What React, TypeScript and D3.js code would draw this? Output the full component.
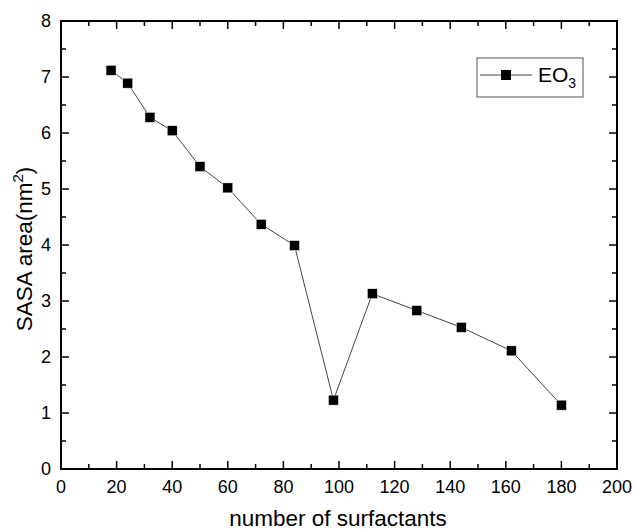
import React from "react";
import * as d3 from "d3";

const surfactants = [18, 24, 32, 40, 50, 60, 72, 84, 98, 112, 128, 144, 162, 180];
const sasaArea = [7.12, 6.89, 6.28, 6.04, 5.4, 5.02, 4.37, 3.99, 1.23, 3.13, 2.83, 2.53, 2.11, 1.14];
const xTicks = [0, 20, 40, 60, 80, 100, 120, 140, 160, 180, 200];
const yTicks = [0, 1, 2, 3, 4, 5, 6, 7, 8];

const W = 635;
const H = 531;
const left = 61;
const right = 617;
const top = 21;
const bottom = 469;
const font = "'Liberation Sans', Arial, sans-serif";

export default function App() {
  const x = d3.scaleLinear().domain([0, 200]).range([left, right]);
  const y = d3.scaleLinear().domain([0, 8]).range([bottom, top]);
  const pts = surfactants.map((s, i) => [s, sasaArea[i]] as [number, number]);
  const line = d3
    .line<[number, number]>()
    .x((d) => x(d[0]))
    .y((d) => y(d[1]));

  const xMinor = d3.range(10, 200, 20);
  const yMinor = d3.range(0.5, 8, 1);

  return (
    <svg width={W} height={H} style={{ position: "absolute", left: 0, top: 0 }}>
      <rect width={W} height={H} fill="#fff" />
      {/* ticks, inward on all four sides */}
      <g stroke="#000" strokeWidth={1.5}>
        {xTicks.map((t) => (
          <g key={"xt" + t}>
            <line x1={x(t)} x2={x(t)} y1={bottom} y2={bottom - 8} />
            <line x1={x(t)} x2={x(t)} y1={top} y2={top + 8} />
          </g>
        ))}
        {xMinor.map((t) => (
          <g key={"xm" + t}>
            <line x1={x(t)} x2={x(t)} y1={bottom} y2={bottom - 5} />
            <line x1={x(t)} x2={x(t)} y1={top} y2={top + 5} />
          </g>
        ))}
        {yTicks.map((t) => (
          <g key={"yt" + t}>
            <line x1={left} x2={left + 8} y1={y(t)} y2={y(t)} />
            <line x1={right} x2={right - 8} y1={y(t)} y2={y(t)} />
          </g>
        ))}
        {yMinor.map((t) => (
          <g key={"ym" + t}>
            <line x1={left} x2={left + 5} y1={y(t)} y2={y(t)} />
            <line x1={right} x2={right - 5} y1={y(t)} y2={y(t)} />
          </g>
        ))}
      </g>
      <rect x={left} y={top} width={right - left} height={bottom - top} fill="none" stroke="#000" strokeWidth={2} />

      {/* tick labels */}
      <g fontFamily={font} fontSize={18} fill="#000">
        {xTicks.map((t) => (
          <text key={"xl" + t} x={x(t)} y={bottom + 24} textAnchor="middle">
            {t}
          </text>
        ))}
        {yTicks.map((t) => (
          <text key={"yl" + t} x={left - 10} y={y(t) + 6} textAnchor="end">
            {t}
          </text>
        ))}
      </g>

      {/* axis titles */}
      <text x={338} y={526} textAnchor="middle" fontFamily={font} fontSize={22.5}>
        number of surfactants
      </text>
      <text
        transform={`translate(32,249) rotate(-90)`}
        textAnchor="middle"
        fontFamily={font}
        fontSize={22.5}
      >
        SASA area(nm<tspan dy={-9} fontSize={15}>2</tspan>
        <tspan dy={9}>)</tspan>
      </text>

      {/* series */}
      <path d={line(pts) ?? ""} fill="none" stroke="#444" strokeWidth={1} />
      {pts.map((p, i) => (
        <rect key={i} x={x(p[0]) - 5} y={y(p[1]) - 5} width={10} height={10} fill="#000" stroke="#fff" strokeWidth={0.5} />
      ))}

      {/* legend */}
      <rect x={477} y={58} width={106} height={39} fill="#fff" stroke="#555" strokeWidth={1} />
      <line x1={480} x2={532} y1={75} y2={75} stroke="#444" strokeWidth={1} />
      <rect x={501} y={70} width={10} height={10} fill="#000" />
      <text x={538} y={82} fontFamily={font} fontSize={21}>
        EO<tspan dy={6} fontSize={14}>3</tspan>
      </text>
    </svg>
  );
}
